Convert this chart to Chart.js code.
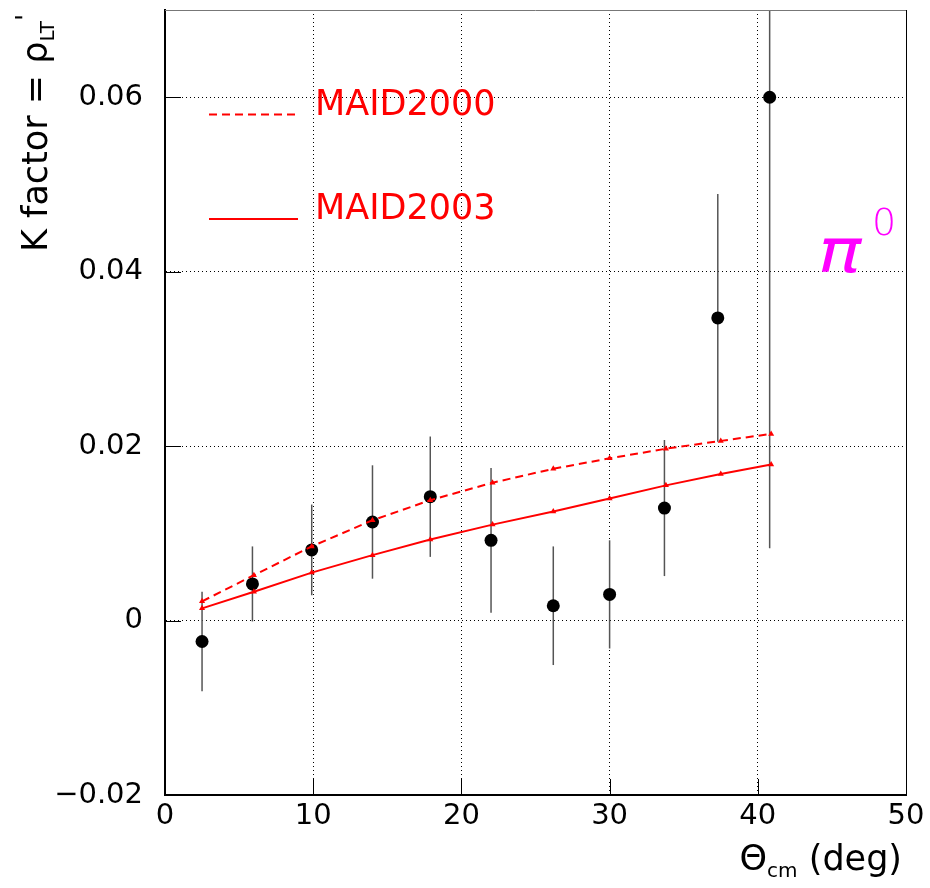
<!DOCTYPE html>
<html>
<head>
<meta charset="utf-8">
<script src="https://cdn.jsdelivr.net/npm/chart.js@4/dist/chart.umd.min.js"></script>
<style>
  html, body { margin: 0; padding: 0; background: #fff; }
</style>
</head>
<body>
<canvas id="chart" width="930" height="888"></canvas>
<script>
// measured K factor vs theta_cm
let angles = [2.5, 5.9, 9.9, 14.0, 17.9, 22.0, 26.2, 30.0, 33.7, 37.3, 40.8];
let kFactor = [-0.0024, 0.0042, 0.0081, 0.0113, 0.0142, 0.0092, 0.0017, 0.0030, 0.0129, 0.0347, 0.0600];
let kError = [0.0057, 0.0043, 0.0052, 0.0065, 0.0069, 0.0083, 0.0068, 0.0062, 0.0078, 0.0142, 0.0517];

// model curves
let modelAngles = [2.5, 6.0, 9.9, 14.0, 17.9, 22.1, 26.2, 30.0, 33.8, 37.5, 40.9];
let maid2000 = [0.0022, 0.0052, 0.0085, 0.0115, 0.0138, 0.0158, 0.0174, 0.0186, 0.0197, 0.0206, 0.0214];
let maid2003 = [0.0014, 0.0033, 0.0055, 0.0075, 0.0093, 0.0110, 0.0125, 0.0140, 0.0155, 0.0168, 0.0179];

let xTicks = [0, 10, 20, 30, 40, 50];
let yTicks = [-0.02, 0, 0.02, 0.04, 0.06];

const FONT = "'DejaVu Sans', sans-serif";

function pts(xs, ys) {
  return xs.map((v, i) => ({x: v, y: ys[i]}));
}

function fmtY(v) {
  if (Math.abs(v) < 1e-9) return '0';
  let s = v.toFixed(2);
  return s.replace('-', '\u2212');
}

// error bars, inner ticks and the rest of the frame
const framePlugin = {
  id: 'frame',
  beforeDatasetsDraw(chart) {
    const {ctx, chartArea: a, scales: {x, y}} = chart;
    ctx.save();
    ctx.beginPath();
    ctx.rect(a.left, a.top, a.right - a.left, a.bottom - a.top);
    ctx.clip();
    ctx.strokeStyle = '#555';
    ctx.lineWidth = 1.5;
    angles.forEach((t, i) => {
      const px = x.getPixelForValue(t);
      ctx.beginPath();
      ctx.moveTo(px, y.getPixelForValue(kFactor[i] + kError[i]));
      ctx.lineTo(px, y.getPixelForValue(kFactor[i] - kError[i]));
      ctx.stroke();
    });
    ctx.restore();

    ctx.save();
    ctx.strokeStyle = '#000';
    ctx.lineWidth = 1;
    xTicks.forEach(v => {
      const px = Math.round(x.getPixelForValue(v)) + 0.5;
      ctx.beginPath();
      ctx.moveTo(px, a.bottom);
      ctx.lineTo(px, a.bottom - 16);
      ctx.stroke();
    });
    yTicks.forEach(v => {
      const py = Math.round(y.getPixelForValue(v)) + 0.5;
      ctx.beginPath();
      ctx.moveTo(a.left, py);
      ctx.lineTo(a.left + 16, py);
      ctx.stroke();
    });
    // top and right edges
    ctx.strokeStyle = '#777';
    ctx.beginPath();
    ctx.moveTo(a.left, Math.round(a.top) + 0.5);
    ctx.lineTo(a.right, Math.round(a.top) + 0.5);
    ctx.stroke();
    ctx.strokeStyle = '#000';
    ctx.beginPath();
    ctx.moveTo(Math.round(a.right) + 0.5, a.top);
    ctx.lineTo(Math.round(a.right) + 0.5, a.bottom);
    ctx.stroke();
    ctx.restore();
  },
  afterDraw(chart) {
    const ctx = chart.ctx;
    ctx.save();
    ctx.textBaseline = 'alphabetic';
    ctx.textAlign = 'left';

    // legend
    ctx.strokeStyle = '#ff0000';
    ctx.lineWidth = 2;
    ctx.setLineDash([8, 5]);
    ctx.beginPath();
    ctx.moveTo(209, 114.5);
    ctx.lineTo(296, 114.5);
    ctx.stroke();
    ctx.setLineDash([]);
    ctx.beginPath();
    ctx.moveTo(209, 219);
    ctx.lineTo(298, 219);
    ctx.stroke();
    ctx.fillStyle = '#ff0000';
    ctx.font = '35px ' + FONT;
    ctx.fillText('MAID2000', 315, 115);
    ctx.fillText('MAID2003', 315, 219);

    // pi0 label
    ctx.fillStyle = '#ff00ff';
    ctx.save();
    ctx.translate(818, 272);
    ctx.scale(1.2, 1);
    ctx.font = 'italic 200 60px ' + FONT;
    ctx.fillText('\u03c0', 0, 0);
    ctx.restore();
    ctx.font = '200 38px ' + FONT;
    ctx.fillText('0', 872, 235);

    // x title: Theta_cm (deg), right aligned at the axis end
    ctx.fillStyle = '#000';
    const big = '35px ' + FONT, small = '20px ' + FONT;
    ctx.font = big;
    const w1 = ctx.measureText('\u0398').width;
    const w3 = ctx.measureText(' (deg)').width;
    ctx.font = small;
    const w2 = ctx.measureText('cm').width;
    let x0 = 902 - (w1 + w2 + w3);
    ctx.font = big;
    ctx.fillText('\u0398', x0, 870);
    ctx.font = small;
    ctx.fillText('cm', x0 + w1, 877);
    ctx.font = big;
    ctx.fillText(' (deg)', x0 + w1 + w2, 870);

    // y title: K factor = rho_LT'
    ctx.translate(47, 252);
    ctx.rotate(-Math.PI / 2);
    ctx.font = big;
    ctx.fillText('K factor = \u03c1', 0, 0);
    let p = ctx.measureText('K factor = \u03c1').width;
    ctx.font = small;
    ctx.fillText('LT', p, 7);
    p += ctx.measureText('LT').width;
    ctx.font = '26px ' + FONT;
    ctx.fillText("'", p, -12);
    ctx.restore();
  }
};

let ctx = document.getElementById('chart').getContext('2d');
let chart = new Chart(ctx, {
  type: 'scatter',
  data: {
    datasets: [
      {
        label: 'MAID2000',
        data: pts(modelAngles, maid2000),
        showLine: true,
        borderColor: '#ff0000',
        borderWidth: 2,
        borderDash: [8, 5],
        pointStyle: 'triangle',
        pointRadius: 3.5,
        pointBackgroundColor: '#ff0000',
        pointBorderWidth: 0,
        order: 0
      },
      {
        label: 'MAID2003',
        data: pts(modelAngles, maid2003),
        showLine: true,
        borderColor: '#ff0000',
        borderWidth: 2,
        pointStyle: 'triangle',
        pointRadius: 3.5,
        pointBackgroundColor: '#ff0000',
        pointBorderWidth: 0,
        order: 1
      },
      {
        label: 'data',
        data: pts(angles, kFactor),
        pointRadius: 6.5,
        pointBackgroundColor: '#000',
        pointBorderWidth: 0,
        order: 2
      }
    ]
  },
  options: {
    responsive: false,
    animation: false,
    layout: { padding: { left: 0, top: 10, right: 24, bottom: 0 } },
    plugins: { legend: { display: false }, tooltip: { enabled: false } },
    scales: {
      x: {
        type: 'linear',
        min: 0,
        max: 50,
        afterFit: s => { s.height = 93; s.paddingLeft = 0; s.paddingRight = 0; },
        afterBuildTicks: s => { s.ticks = xTicks.map(v => ({value: v})); },
        grid: { color: '#000', lineWidth: 1, drawTicks: false },
        border: { color: '#000', width: 2, dash: [1, 3] },
        ticks: {
          padding: 4,
          color: '#000',
          font: { family: FONT, size: 29 },
          maxRotation: 0,
          callback: v => String(v)
        }
      },
      y: {
        type: 'linear',
        min: -0.02,
        max: 0.07,
        afterFit: s => { s.width = 165; s.paddingTop = 0; s.paddingBottom = 0; },
        afterBuildTicks: s => { s.ticks = yTicks.map(v => ({value: v})); },
        grid: { color: '#000', lineWidth: 1, drawTicks: false },
        border: { color: '#000', width: 2, dash: [1, 3] },
        ticks: {
          padding: 22,
          color: '#000',
          font: { family: FONT, size: 29 },
          callback: v => fmtY(v)
        }
      }
    }
  },
  plugins: [framePlugin]
});
</script>
</body>
</html>
